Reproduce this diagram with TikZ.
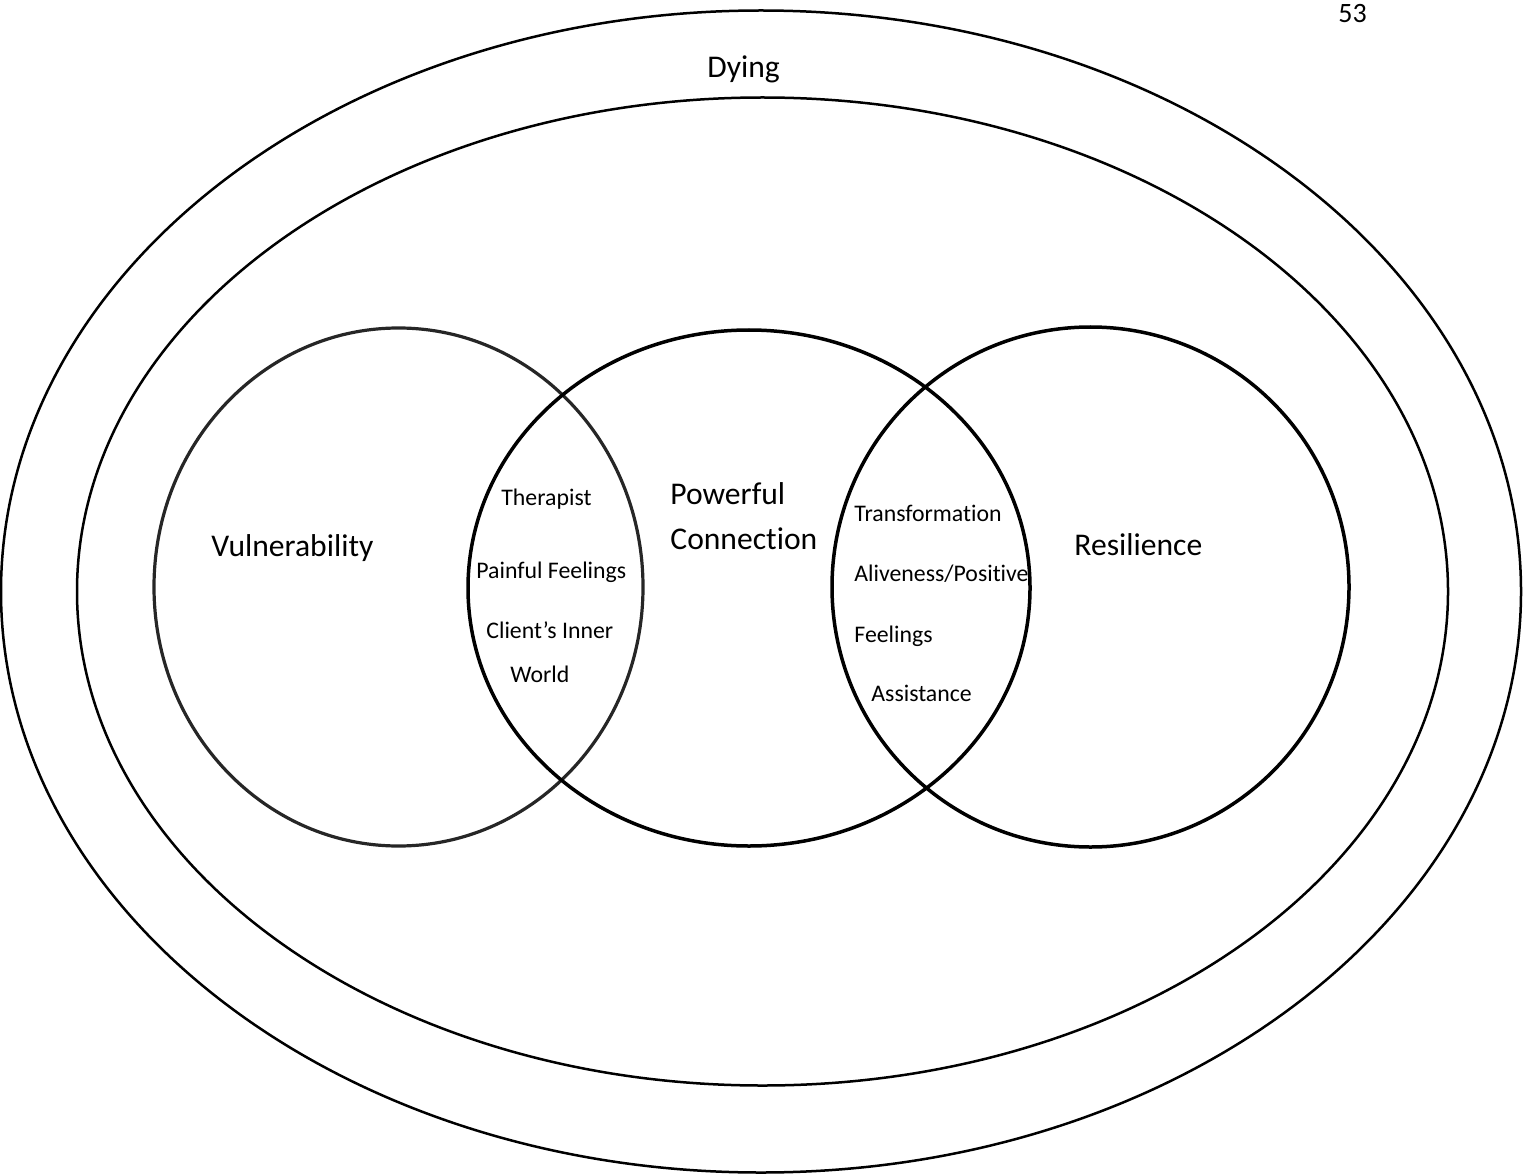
\documentclass[tikz,border=0pt]{standalone}
\usepackage{fontspec}
\setmainfont{Carlito}[Ligatures={NoCommon}]

\begin{document}
\begin{tikzpicture}[
  x=0.5pt,y=-0.5pt,
  ring/.style={draw,line width=1.25pt},
  set/.style={draw,line width=1.75pt},
  fadedset/.style={draw=black!85,line width=1.6pt},
  big/.style={font=\fontsize{15.8}{19}\selectfont,anchor=base west,inner sep=0pt},
  small/.style={font=\fontsize{11.9}{14}\selectfont,anchor=base west,inner sep=0pt},
]
\useasboundingbox (0,0) rectangle (1524,1176);

% page number
\node[small,font=\fontsize{14}{17}\selectfont] (page) at (1338,23) {53};

% the two outer rings
\draw[ring] (761,591.5) ellipse [x radius=760,y radius=581];
\draw[ring] (762.5,591.5) ellipse [x radius=685.5,y radius=494];
\node[big] (dying) at (707,78) {Dying};

% the three sets
\draw[fadedset] (398.5,587) ellipse [x radius=244.5,y radius=259];
\draw[set] (749,588) ellipse [x radius=281,y radius=258];
\draw[set] (1090.5,587) ellipse [x radius=258.5,y radius=260];

\node[big] (vuln) at (211,556) {Vulnerability};
\node[big] (power) at (670,504) {Powerful};
\node[big] (conn) at (670,549) {Connection};
\node[big] (resil) at (1074,555) {Resilience};

% left overlap
\node[small] (therapist) at (501,505) {Therapist};
\node[small] (painful) at (476,578) {Painful Feelings};
\node[small] (inner) at (486,638) {Client’s Inner};
\node[small] (world) at (510,682) {World};

% right overlap
\node[small] (transf) at (854,521) {Transformation};
\node[small] (alive) at (854,581) {Aliveness/Positive};
\node[small] (feel) at (854,642) {Feelings};
\node[small] (assist) at (871,701) {Assistance};

\end{tikzpicture}
\end{document}
